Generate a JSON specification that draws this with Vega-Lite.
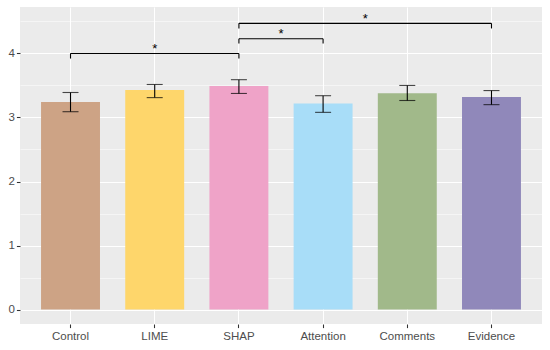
{
  "$schema": "https://vega.github.io/schema/vega-lite/v6.json",
  "width": 522,
  "height": 317,
  "autosize": {"type": "none"},
  "padding": {"left": 20, "top": 7, "right": 8, "bottom": 26},
  "background": "white",
  "config": {
    "view": {"fill": "#EBEBEB", "stroke": null},
    "font": "Liberation Sans",
    "axis": {
      "domain": false,
      "grid": true,
      "gridColor": "white",
      "tickColor": "#333333",
      "tickSize": 3.6,
      "tickWidth": 1.07,
      "labelColor": "#4D4D4D",
      "labelFontSize": 11.5,
      "labelFont": "Liberation Sans",
      "title": null
    }
  },
  "datasets": {
    "bars": [
      {"condition": "Control", "mean": 3.24, "lo": 3.09, "hi": 3.39},
      {"condition": "LIME", "mean": 3.43, "lo": 3.31, "hi": 3.515},
      {"condition": "SHAP", "mean": 3.49, "lo": 3.375, "hi": 3.59},
      {"condition": "Attention", "mean": 3.22, "lo": 3.08, "hi": 3.34},
      {"condition": "Comments", "mean": 3.38, "lo": 3.265, "hi": 3.5},
      {"condition": "Evidence", "mean": 3.32, "lo": 3.2, "hi": 3.42}
    ],
    "brackets": [
      {"condition": "Control", "to": "SHAP", "mean": 4.0},
      {"condition": "SHAP", "to": "Attention", "mean": 4.23},
      {"condition": "SHAP", "to": "Evidence", "mean": 4.47}
    ],
    "legs": [
      {"condition": "Control", "mean": 3.92, "top": 4.0},
      {"condition": "SHAP", "mean": 3.92, "top": 4.0},
      {"condition": "SHAP", "mean": 4.155, "top": 4.23},
      {"condition": "Attention", "mean": 4.155, "top": 4.23},
      {"condition": "SHAP", "mean": 4.39, "top": 4.47},
      {"condition": "Evidence", "mean": 4.39, "top": 4.47}
    ],
    "starsCentered": [
      {"condition": "LIME", "mean": 4.075, "label": "*"}
    ],
    "starsBetween": [
      {"condition": "SHAP", "mean": 4.305, "label": "*"},
      {"condition": "Attention", "mean": 4.545, "label": "*"}
    ]
  },
  "encoding": {
    "x": {
      "field": "condition",
      "type": "nominal",
      "scale": {
        "domain": ["Control", "LIME", "SHAP", "Attention", "Comments", "Evidence"],
        "paddingInner": 0.3,
        "paddingOuter": 0.25
      },
      "axis": {"labelAngle": 0, "grid": true, "gridColor": "white", "gridWidth": 1.07, "labelPadding": 3}
    },
    "y": {
      "field": "mean",
      "type": "quantitative",
      "scale": {"domain": [-0.225, 4.725], "nice": false, "zero": false},
      "axis": {
        "values": [0, 0.5, 1, 1.5, 2, 2.5, 3, 3.5, 4, 4.5],
        "grid": true,
        "gridColor": "white",
        "gridWidth": {"condition": {"test": "datum.value % 1 === 0", "value": 1.07}, "value": 0.53},
        "tickOpacity": {"condition": {"test": "datum.value % 1 === 0", "value": 1}, "value": 0},
        "labelExpr": "datum.value % 1 === 0 ? format(datum.value, 'd') : ''",
        "labelPadding": 2
      }
    }
  },
  "layer": [
    {
      "data": {"name": "bars"},
      "mark": {"type": "bar"},
      "encoding": {
        "color": {
          "field": "condition",
          "type": "nominal",
          "scale": {
            "domain": ["Control", "LIME", "SHAP", "Attention", "Comments", "Evidence"],
            "range": ["#CDA385", "#FED66B", "#EFA3C8", "#A8DDF8", "#A1B98A", "#9088BA"]
          },
          "legend": null
        }
      }
    },
    {
      "data": {"name": "bars"},
      "mark": {"type": "rule", "color": "black", "strokeWidth": 1.1},
      "encoding": {
        "y": {
          "field": "lo",
          "type": "quantitative",
          "scale": {"domain": [-0.225, 4.725], "nice": false, "zero": false},
          "axis": {
            "values": [0, 0.5, 1, 1.5, 2, 2.5, 3, 3.5, 4, 4.5],
            "grid": true,
            "gridColor": "white",
            "gridWidth": {"condition": {"test": "datum.value % 1 === 0", "value": 1.07}, "value": 0.53},
            "tickOpacity": {"condition": {"test": "datum.value % 1 === 0", "value": 1}, "value": 0},
            "labelExpr": "datum.value % 1 === 0 ? format(datum.value, 'd') : ''",
            "labelPadding": 2
          }
        },
        "y2": {"field": "hi"}
      }
    },
    {
      "data": {"name": "bars"},
      "mark": {"type": "tick", "color": "black", "size": 16, "thickness": 1.1, "orient": "horizontal"},
      "encoding": {
        "y": {
          "field": "lo",
          "type": "quantitative",
          "scale": {"domain": [-0.225, 4.725], "nice": false, "zero": false},
          "axis": {
            "values": [0, 0.5, 1, 1.5, 2, 2.5, 3, 3.5, 4, 4.5],
            "grid": true,
            "gridColor": "white",
            "gridWidth": {"condition": {"test": "datum.value % 1 === 0", "value": 1.07}, "value": 0.53},
            "tickOpacity": {"condition": {"test": "datum.value % 1 === 0", "value": 1}, "value": 0},
            "labelExpr": "datum.value % 1 === 0 ? format(datum.value, 'd') : ''",
            "labelPadding": 2
          }
        }
      }
    },
    {
      "data": {"name": "bars"},
      "mark": {"type": "tick", "color": "black", "size": 16, "thickness": 1.1, "orient": "horizontal"},
      "encoding": {
        "y": {
          "field": "hi",
          "type": "quantitative",
          "scale": {"domain": [-0.225, 4.725], "nice": false, "zero": false},
          "axis": {
            "values": [0, 0.5, 1, 1.5, 2, 2.5, 3, 3.5, 4, 4.5],
            "grid": true,
            "gridColor": "white",
            "gridWidth": {"condition": {"test": "datum.value % 1 === 0", "value": 1.07}, "value": 0.53},
            "tickOpacity": {"condition": {"test": "datum.value % 1 === 0", "value": 1}, "value": 0},
            "labelExpr": "datum.value % 1 === 0 ? format(datum.value, 'd') : ''",
            "labelPadding": 2
          }
        }
      }
    },
    {
      "data": {"name": "brackets"},
      "mark": {"type": "rule", "color": "black", "strokeWidth": 1.1},
      "encoding": {
        "x2": {"field": "to"}
      }
    },
    {
      "data": {"name": "legs"},
      "mark": {"type": "rule", "color": "black", "strokeWidth": 1.1},
      "encoding": {
        "y2": {"field": "top"}
      }
    },
    {
      "data": {"name": "starsCentered"},
      "mark": {"type": "text", "color": "black", "fontSize": 13, "baseline": "middle", "align": "center"},
      "encoding": {
        "text": {"field": "label"}
      }
    },
    {
      "data": {"name": "starsBetween"},
      "mark": {"type": "text", "color": "black", "fontSize": 13, "baseline": "middle", "align": "center"},
      "encoding": {
        "x": {
          "field": "condition",
          "type": "nominal",
          "bandPosition": 1.2143,
          "scale": {
            "domain": ["Control", "LIME", "SHAP", "Attention", "Comments", "Evidence"],
            "paddingInner": 0.3,
            "paddingOuter": 0.25
          },
          "axis": {"labelAngle": 0, "grid": true, "gridColor": "white", "gridWidth": 1.07, "labelPadding": 3}
        },
        "text": {"field": "label"}
      }
    }
  ]
}
